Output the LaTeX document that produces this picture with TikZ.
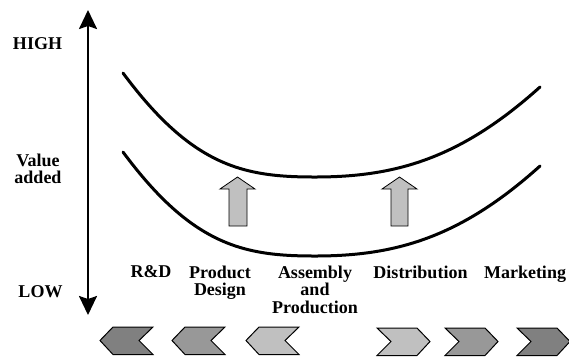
\documentclass[tikz,border=0pt]{standalone}
\usepackage{fontspec}
\setmainfont{Liberation Serif}
\usetikzlibrary{arrows.meta}
\definecolor{gdark}{HTML}{808080}
\definecolor{gmid}{HTML}{989898}
\definecolor{glight}{HTML}{C0C0C0}
\tikzset{
  lbl/.style={font=\fontsize{18}{17.5}\selectfont\bfseries, inner sep=0pt, align=center},
  curve/.style={line width=3pt, line cap=round},
  axis/.style={line width=2.2pt, {Stealth[length=19pt,width=18pt,inset=3pt]}-{Stealth[length=19pt,width=18pt,inset=3pt]}},
  uparrow/.style={fill=glight, draw=black, line width=0.8pt, line join=miter},
  chev/.style={draw=black, line width=1pt, line join=miter}
}
\begin{document}
\begin{tikzpicture}[x=1pt,y=-1pt]
\useasboundingbox (0,0) rectangle (569,360);
% axis
\coordinate (top) at (88,10);
\coordinate (bot) at (88,315);
\draw[axis] (bot) -- (top);
\node[lbl, anchor=base] (high) at (37.5,49) {HIGH};
\node[lbl, anchor=north] (va) at (38,153.7) {Value\\added};
\node[lbl, anchor=base] (low) at (40.5,297) {LOW};
% curves
\draw[curve] (123,73) .. controls (193,167.5) and (245,177) .. (315,177) .. controls (395,177) and (460,159) .. (540,87);
\draw[curve] (123,152) .. controls (193,246.5) and (245,256) .. (315,256) .. controls (395,256) and (460,238) .. (540,166);
% up arrows
\draw[uparrow] (229,226) -- (229,189) -- (220,189) -- (237.5,177) -- (255,189) -- (247,189) -- (247,226) -- cycle;
\draw[uparrow] (391,226) -- (391,189) -- (382,189) -- (399.5,177) -- (417,189) -- (408,189) -- (408,226) -- cycle;
% labels
\node[lbl, anchor=north] (rd) at (151,265.7) {R\&D};
\node[lbl, anchor=north] (pd) at (220,265.7) {Product\\Design};
\node[lbl, anchor=north] (ap) at (315,265.7) {Assembly\\and\\Production};
\node[lbl, anchor=north] (di) at (420.5,265.7) {Distribution};
\node[lbl, anchor=north] (mk) at (525,265.7) {Marketing};
% left chevrons
\foreach \r/\c in {153/gdark, 225/gmid, 299/glight}{
  \draw[chev, fill=\c] (\r-53,340.5) -- (\r-40,327) -- (\r,327) -- (\r-14,340.5) -- (\r,354.5) -- (\r-40,354.5) -- cycle;
}
% right chevrons
\foreach \l/\c in {377/glight, 445/gmid, 517/gdark}{
  \draw[chev, fill=\c] (\l,328) -- (\l+40,328) -- (\l+53,341.5) -- (\l+40,355.5) -- (\l,355.5) -- (\l+14,341.5) -- cycle;
}
\end{tikzpicture}
\end{document}
